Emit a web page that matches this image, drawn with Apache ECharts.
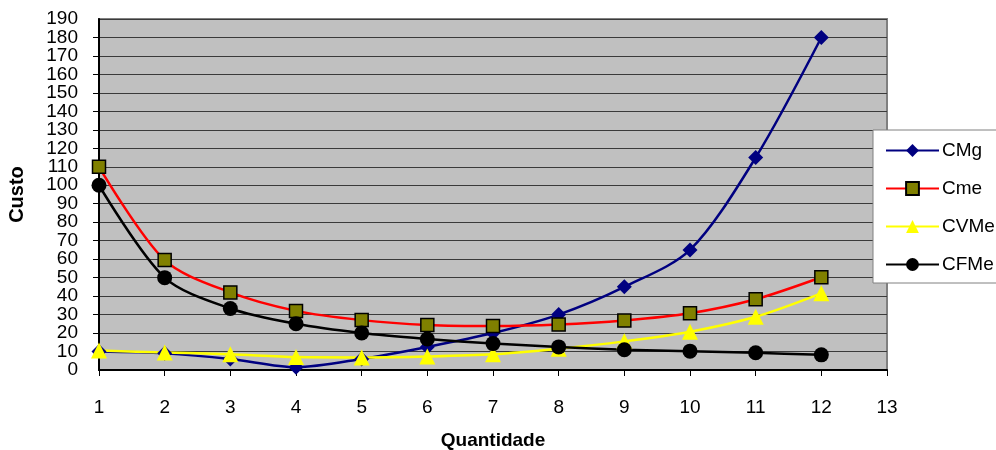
<!DOCTYPE html>
<html>
<head>
<meta charset="utf-8">
<script src="https://cdn.jsdelivr.net/npm/echarts@6/dist/echarts.min.js"></script>
<style>html,body{margin:0;padding:0;background:#fff}#c{width:996px;height:450px}</style>
</head>
<body>
<div id="c"></div>
<script>
const quantities = [1,2,3,4,5,6,7,8,9,10,11,12];
const cmg  = [10, 9, 6, 1.5, 6, 12.5, 20, 30, 45, 65, 115, 180];
const cme  = [110, 59.5, 42, 32, 27, 24.4, 23.8, 24.6, 26.8, 30.7, 38.3, 50.2];
const cvme = [10.5, 9.5, 8.5, 7, 6.8, 7.3, 8.5, 11.5, 15.5, 20.7, 28.8, 41.5];
const cfme = [100, 50, 33.3, 25, 20, 16.8, 14.3, 12.5, 11, 10.2, 9.3, 8.2];
const seriesNames = ['CMg','Cme','CVMe','CFMe'];
const xTitle = 'Quantidade';
const yTitle = 'Custo';
const yMin = 0, yMax = 190, yStep = 10;

const pairs = arr => quantities.map((q,i)=>[q, arr[i]]);
const font = '"Liberation Sans", Arial, sans-serif';

const chart = echarts.init(document.getElementById('c'), null, {renderer:'canvas'});
chart.setOption({
  animation:false,
  backgroundColor:'#ffffff',
  grid:{left:99, right:109, top:19, bottom:80, show:true, containLabel:false, outerBoundsMode:'none',
        backgroundColor:'#C0C0C0', borderColor:'#808080', borderWidth:2},
  legend:{
    orient:'vertical', left:873, top:130,
    padding:[11,12,9,12], itemGap:19, itemWidth:53, itemHeight:16,
    backgroundColor:'#ffffff', borderColor:'#808080', borderWidth:1,
    textStyle:{fontFamily:font, fontSize:19, color:'#000', padding:[0,0,0,-2]},
    data:seriesNames
  },
  xAxis:{
    type:'value', min:1, max:13, interval:1,
    name:xTitle, nameLocation:'middle', nameGap:61,
    nameTextStyle:{fontFamily:font, fontSize:19, fontWeight:'bold', color:'#000'},
    axisLine:{show:true, onZero:false, lineStyle:{color:'#000', width:2}},
    axisTick:{show:true, length:6, lineStyle:{color:'#000'}},
    axisLabel:{fontFamily:font, fontSize:19, color:'#000', margin:28},
    splitLine:{show:false}
  },
  yAxis:[{
    type:'value', min:yMin, max:yMax, interval:yStep,
    name:yTitle, nameLocation:'middle', nameGap:72, nameRotate:90,
    nameTextStyle:{fontFamily:font, fontSize:20, fontWeight:'bold', color:'#000'},
    axisLine:{show:true, lineStyle:{color:'#000', width:2}},
    axisTick:{show:true, length:6, lineStyle:{color:'#000'}},
    axisLabel:{fontFamily:font, fontSize:19, color:'#000', margin:21, showMinLabel:false, showMaxLabel:false, hideOverlap:false, interval:0, lineHeight:12},
    splitLine:{show:true, lineStyle:{color:'#3a3a3a', width:1}}
  },{
    type:'value', min:yMin, max:yMax, interval:yStep, position:'left',
    axisLine:{show:false}, axisTick:{show:false}, splitLine:{show:false},
    axisLabel:{fontFamily:font, fontSize:19, color:'#000', margin:21, showMinLabel:true, showMaxLabel:true, interval:0,
      formatter: v => (v === yMin || v === yMax) ? String(v) : ''}
  }],
  series:[
    {name:seriesNames[0], type:'line', smooth:0.3, data:pairs(cmg), symbol:'diamond', symbolSize:15,
     lineStyle:{color:'#000080', width:2.5}, itemStyle:{color:'#000080'}},
    {name:seriesNames[1], type:'line', smooth:0.3, data:pairs(cme), symbol:'rect', symbolSize:13,
     lineStyle:{color:'#FF0000', width:2.5}, itemStyle:{color:'#808000', borderColor:'#000', borderWidth:1.5}},
    {name:seriesNames[2], type:'line', smooth:0.3, data:pairs(cvme), symbol:'triangle', symbolSize:16,
     lineStyle:{color:'#FFFF00', width:2.5}, itemStyle:{color:'#FFFF00'}},
    {name:seriesNames[3], type:'line', smooth:0.3, data:pairs(cfme), symbol:'circle', symbolSize:15,
     lineStyle:{color:'#000000', width:2.5}, itemStyle:{color:'#000000'}}
  ]
});
</script>
</body>
</html>
